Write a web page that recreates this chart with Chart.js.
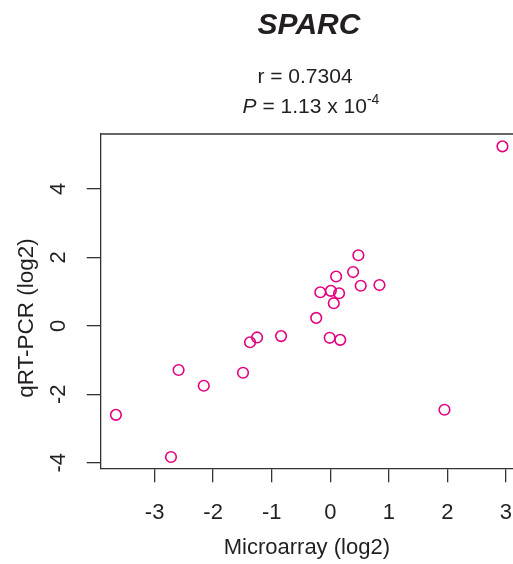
<!DOCTYPE html>
<html>
<head>
<meta charset="utf-8">
<script src="https://cdn.jsdelivr.net/npm/chart.js@4/dist/chart.umd.min.js"></script>
<style>
  html, body { margin: 0; padding: 0; background: #fff; }
  #wrap { width: 513px; height: 564px; }
</style>
</head>
<body>
<div id="wrap"><canvas id="c" width="513" height="564"></canvas></div>
<script>
// ---- data ----
const microarray = [2.94, 0.48, 0.39, 0.10, 0.52, 0.84, -0.17, 0.01, 0.15, 0.06, -0.24,
                    -0.01, 0.17, -0.84, -1.25, -1.37, -1.49, -2.59, -2.16, -3.66, -2.72, 1.95];
const qrtpcr     = [5.24, 2.06, 1.57, 1.44, 1.17, 1.19, 0.98, 1.02, 0.95, 0.66, 0.23,
                    -0.35, -0.41, -0.30, -0.34, -0.48, -1.37, -1.29, -1.75, -2.60, -3.83, -2.45];
const xTicks = [-3, -2, -1, 0, 1, 2, 3];
const yTicks = [-4, -2, 0, 2, 4];
const titleText = 'SPARC';
const rText = 'r = 0.7304';
const pParts = ['P', ' = 1.13 x 10', '-4'];
const xLabel = 'Microarray (log2)';
const yLabel = 'qRT-PCR (log2)';

const FONT = "'Liberation Sans', Arial, Helvetica, sans-serif";
const INK = '#231f20';
const LINE = '#333333';
const PINK = '#e4007f';

const points = microarray.map((x, i) => ({ x: x, y: qrtpcr[i] }));

const textPlugin = {
  id: 'textPlugin',
  afterDraw(chart) {
    const ctx = chart.ctx;
    const ca = chart.chartArea;
    ctx.save();
    // top border of the box
    ctx.strokeStyle = LINE;
    ctx.lineWidth = 1.3;
    ctx.beginPath();
    ctx.moveTo(ca.left, ca.top);
    ctx.lineTo(chart.width, ca.top);
    ctx.stroke();

    ctx.fillStyle = INK;
    ctx.textBaseline = 'alphabetic';
    ctx.textAlign = 'center';
    ctx.font = 'italic bold 30px ' + FONT;
    ctx.fillText(titleText, 309, 34);

    ctx.font = '21px ' + FONT;
    ctx.fillText(rText, 305, 83);

    // P line with italic P and superscript
    const f1 = 'italic 21px ' + FONT, f2 = '21px ' + FONT, f3 = '14px ' + FONT;
    ctx.font = f1; const w1 = ctx.measureText(pParts[0]).width;
    ctx.font = f2; const w2 = ctx.measureText(pParts[1]).width;
    ctx.font = f3; const w3 = ctx.measureText(pParts[2]).width;
    let x0 = 311 - (w1 + w2 + w3) / 2;
    ctx.textAlign = 'left';
    ctx.font = f1; ctx.fillText(pParts[0], x0, 113);
    ctx.font = f2; ctx.fillText(pParts[1], x0 + w1, 113);
    ctx.font = f3; ctx.fillText(pParts[2], x0 + w1 + w2, 104);

    // y axis label (rotated)
    ctx.translate(27, 318);
    ctx.rotate(-Math.PI / 2);
    ctx.textAlign = 'center';
    ctx.textBaseline = 'middle';
    ctx.font = '22.5px ' + FONT;
    ctx.fillText(yLabel, 0, 0);
    ctx.restore();
  }
};

new Chart(document.getElementById('c'), {
  type: 'scatter',
  data: {
    datasets: [{
      data: points,
      pointStyle: 'circle',
      pointRadius: 5.3,
      pointHoverRadius: 5.3,
      pointBorderWidth: 1.6,
      pointBorderColor: PINK,
      pointBackgroundColor: 'rgba(0,0,0,0)',
      showLine: false,
      clip: false
    }]
  },
  options: {
    responsive: false,
    animation: false,
    events: [],
    layout: { autoPadding: false, padding: { top: 134, left: 0, right: 0, bottom: 0 } },
    plugins: { legend: { display: false }, tooltip: { enabled: false }, title: { display: false } },
    scales: {
      x: {
        type: 'linear',
        min: -3.92,
        max: 3.12,
        afterFit(scale) {
          scale.height = 95.7;
          scale.paddingLeft = 0; scale.paddingRight = 0;
        },
        afterBuildTicks(scale) { scale.ticks = xTicks.map(v => ({ value: v })); },
        grid: { drawOnChartArea: false, drawTicks: true, tickLength: 14, color: LINE, lineWidth: 1.3 },
        border: { display: true, color: LINE, width: 1.3 },
        ticks: { color: INK, font: { family: FONT, size: 22 }, padding: 17, maxRotation: 0, autoSkip: false },
        title: { display: true, text: xLabel, color: INK, font: { family: FONT, size: 22 }, padding: { top: 0, bottom: 3 } }
      },
      y: {
        type: 'linear',
        min: -4.16,
        max: 5.60,
        afterFit(scale) {
          scale.width = 100.7;
          scale.paddingTop = 0; scale.paddingBottom = 0;
        },
        afterBuildTicks(scale) { scale.ticks = yTicks.map(v => ({ value: v })); },
        grid: { drawOnChartArea: false, drawTicks: true, tickLength: 14, color: LINE, lineWidth: 1.3 },
        border: { display: true, color: LINE, width: 1.3 },
        ticks: { color: INK, font: { family: FONT, size: 22 }, padding: 18, minRotation: 90, maxRotation: 90, crossAlign: 'center', autoSkip: false },
        title: { display: false }
      }
    }
  },
  plugins: [textPlugin]
});
</script>
</body>
</html>
